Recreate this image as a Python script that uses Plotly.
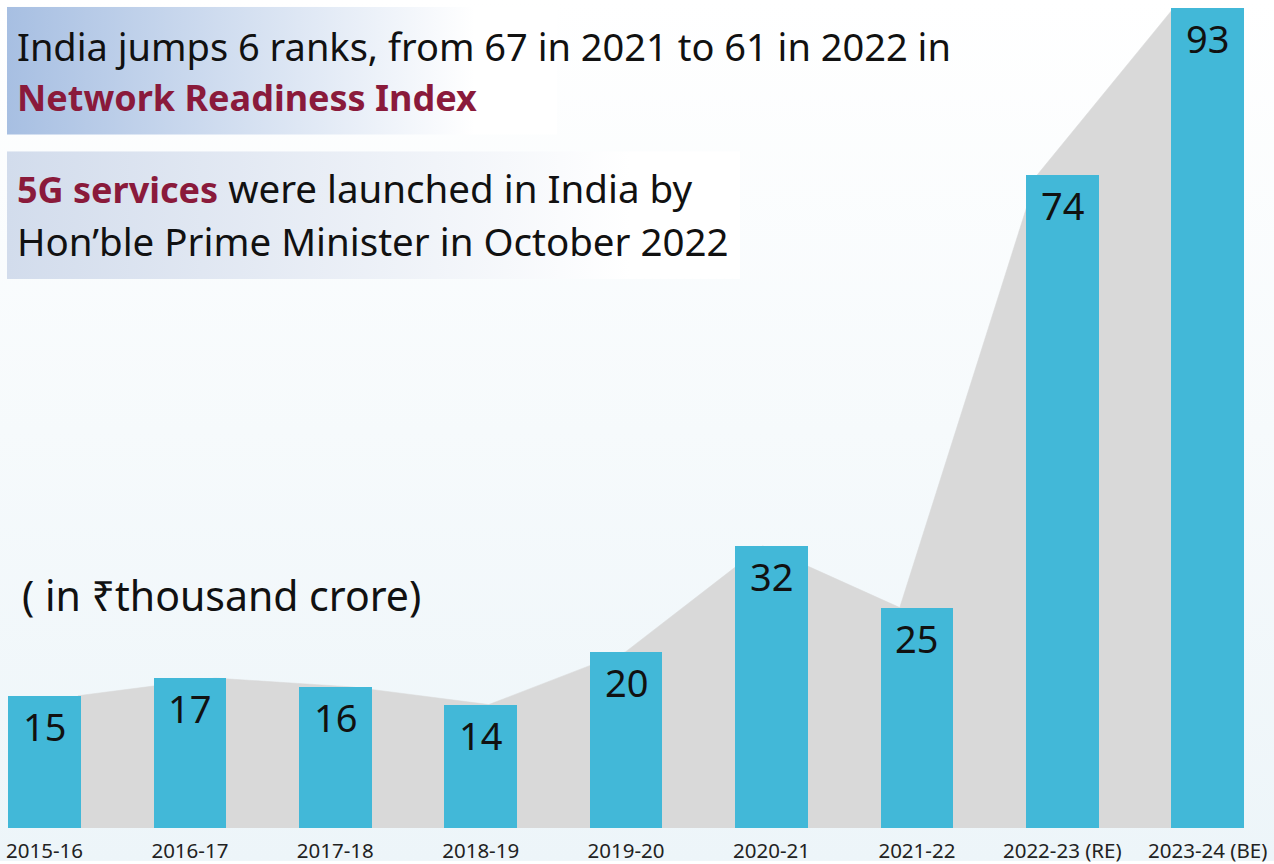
import base64
import plotly.graph_objects as go

# ---- data ----
categories = ["2015-16", "2016-17", "2017-18", "2018-19", "2019-20",
              "2020-21", "2021-22", "2022-23 (RE)", "2023-24 (BE)"]
values = [15, 17, 16, 14, 20, 32, 25, 74, 93]

headline_1 = "India jumps 6 ranks, from 67 in 2021 to 61 in 2022 in"
headline_2 = "Network Readiness Index"
note_bold = "5G services"
note_rest = " were launched in India by"
note_line2 = "Hon\u2019ble Prime Minister in October 2022"
unit_label = "( in \u20b9thousand crore)"

# ---- style ----
W, H = 1274, 864
PLOT_BOTTOM = 831          # pixel row of the baseline
BAR_COLOR = "#42B8D8"
AREA_COLOR = "#D9D9D9"
MAROON = "#8A1A3B"
TEXT = "#111111"
FONT = "Noto Sans"
AREA_X0, AREA_STEP = 0.23, 0.942   # decorative backdrop offset
X_RANGE = [-0.306, 8.456]
Y_RANGE = [0, 93.9]

def px(x):
    return x / W

def py(y):
    return (PLOT_BOTTOM - y) / PLOT_BOTTOM

idx = list(range(len(categories)))

fig = go.Figure()

# grey backdrop area (base axes, drawn underneath)
fig.add_trace(go.Scatter(
    x=[AREA_X0 + AREA_STEP * i for i in idx], y=values,
    xaxis="x", yaxis="y",
    mode="lines", fill="tozeroy", fillcolor=AREA_COLOR,
    line=dict(color=AREA_COLOR, width=0.5), hoverinfo="skip",
    showlegend=False))

# bars (overlay axes, drawn on top)
fig.add_trace(go.Bar(
    x=idx, y=values, width=0.5, xaxis="x2", yaxis="y2",
    marker=dict(color=BAR_COLOR, line=dict(width=0)),
    showlegend=False))

# value labels inside bars
for i, v in zip(idx, values):
    fig.add_annotation(x=i, y=v, xref="x", yref="y", text=str(v),
                       showarrow=False, yanchor="middle", xanchor="center",
                       yshift=-30, font=dict(family=FONT, size=38, color=TEXT))

# background svg (page gradient + text boxes)
svg = f'''<svg xmlns="http://www.w3.org/2000/svg" width="{W}" height="{H}" viewBox="0 0 {W} {H}" preserveAspectRatio="none">
<defs>
<linearGradient id="bg" x1="0" y1="0" x2="0" y2="1"><stop offset="0" stop-color="#FFFFFF"/><stop offset="1" stop-color="#EDF5F9"/></linearGradient>
<linearGradient id="b1" x1="0" y1="0" x2="1" y2="0"><stop offset="0" stop-color="#A7BFE2"/><stop offset="0.85" stop-color="#FFFFFF"/><stop offset="1" stop-color="#FFFFFF"/></linearGradient>
<linearGradient id="b2" x1="0" y1="0" x2="1" y2="0"><stop offset="0" stop-color="#D2DCEC"/><stop offset="0.85" stop-color="#FFFFFF"/><stop offset="1" stop-color="#FFFFFF"/></linearGradient>
</defs>
<rect x="0" y="0" width="{W}" height="{H}" fill="url(#bg)"/>
<rect x="7" y="7" width="550" height="128" fill="url(#b1)"/>
<rect x="7" y="152" width="733" height="128" fill="url(#b2)"/>
</svg>'''
src = "data:image/svg+xml;base64," + base64.b64encode(svg.encode()).decode()
fig.add_layout_image(source=src, xref="paper", yref="paper", x=0, y=1,
                     sizex=1, sizey=H / PLOT_BOTTOM, xanchor="left", yanchor="top",
                     sizing="stretch", layer="below")

# text annotations
def label(text, x, y, size=38.5, color=TEXT):
    fig.add_annotation(x=px(x), y=py(y), xref="paper", yref="paper", text=text,
                       showarrow=False, xanchor="left", yanchor="middle",
                       font=dict(family=FONT, size=size, color=color))

label(headline_1, 15, 46, size=38)
label(f"<b>{headline_2}</b>", 15, 98, size=36, color=MAROON)
label(f"<b><span style='color:{MAROON};font-size:36px'>{note_bold}</span></b>{note_rest}", 15, 189)
label(note_line2, 15, 242)
label(unit_label, 20, 597, size=41)

axis_common = dict(showgrid=False, zeroline=False, showline=False, fixedrange=True)
fig.update_layout(
    width=W, height=H,
    margin=dict(l=0, r=0, t=0, b=H - PLOT_BOTTOM, pad=0),
    paper_bgcolor="#FFFFFF", plot_bgcolor="rgba(0,0,0,0)",
    bargap=0, showlegend=False,
    xaxis=dict(range=X_RANGE, tickvals=idx, ticktext=categories, ticks="",
               ticklabelstandoff=8,
               tickfont=dict(family=FONT, size=20.5, color="#222222"), **axis_common),
    yaxis=dict(range=Y_RANGE, visible=False, **axis_common),
    xaxis2=dict(range=X_RANGE, overlaying="x", visible=False, **axis_common),
    yaxis2=dict(range=Y_RANGE, overlaying="y", visible=False, **axis_common),
)

fig.write_html("out.html", config={"displayModeBar": False},
               post_script="document.body.style.margin='0';document.body.style.padding='0';")
